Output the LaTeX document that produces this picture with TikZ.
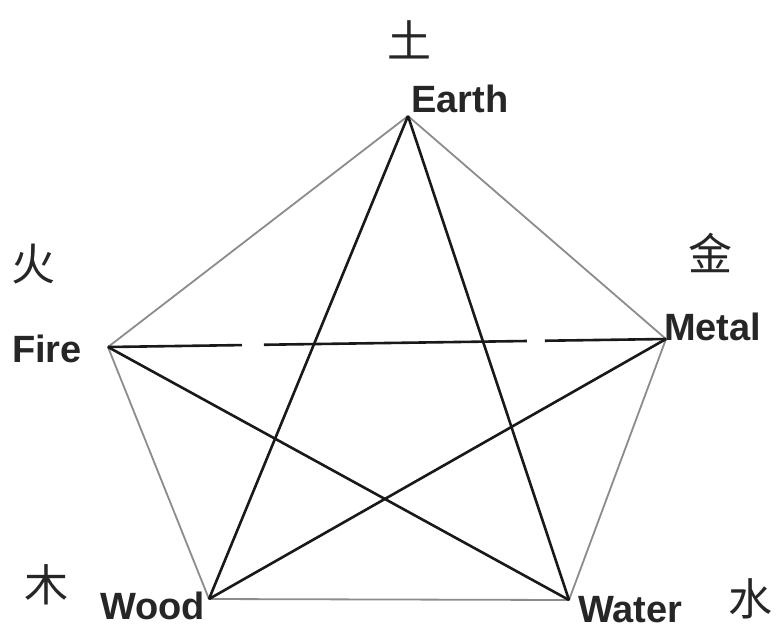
\documentclass[tikz,border=0pt]{standalone}
\usepackage{fontspec}
\setmainfont{Liberation Sans}
\newfontfamily\cjk{Noto Sans CJK SC}
\begin{document}
\begin{tikzpicture}[x=1pt,y=-1pt,
  edge/.style={draw=black!45,line width=1.8pt},
  starline/.style={draw=black!90,line width=2.6pt},
  lbl/.style={font=\fontsize{38}{40}\selectfont\bfseries,inner sep=0pt,text=black!85},
  han/.style={font=\cjk\fontsize{44}{46}\selectfont,inner sep=0pt,text=black!85}]
\useasboundingbox[fill=white] (0,0) rectangle (776,630);
\coordinate (E) at (408,116);
\coordinate (M) at (666,339);
\coordinate (Wa) at (569,600);
\coordinate (Wo) at (209,599);
\coordinate (F) at (108,347);
% pentagon
\draw[edge] (E) -- (M) -- (Wa) -- (Wo) -- (F) -- cycle;
% star
\draw[starline] (E) -- (Wo);
\draw[starline] (E) -- (Wa);
\draw[starline] (F) -- (Wa);
\draw[starline] (Wo) -- (M);
\draw[starline,dash pattern=on 134pt off 22pt on 263pt off 18pt on 200pt] (F) -- (M);
% labels
\node[lbl,anchor=base west] (lE) at (411,112) {Earth};
\node[lbl,anchor=base west] (lF) at (12,362) {Fire};
\node[lbl,anchor=base west] (lM) at (664,340) {Metal};
\node[lbl,anchor=base west] (lWo) at (100,619) {Wood};
\node[lbl,anchor=base west] (lWa) at (578,622) {Water};
% characters
\node[han] (cE) at (409,40) {土};
\node[han] (cF) at (34,264) {火};
\node[han] (cM) at (710,253) {金};
\node[han] (cWo) at (46,585) {木};
\node[han] (cWa) at (750,599) {水};
\end{tikzpicture}
\end{document}
